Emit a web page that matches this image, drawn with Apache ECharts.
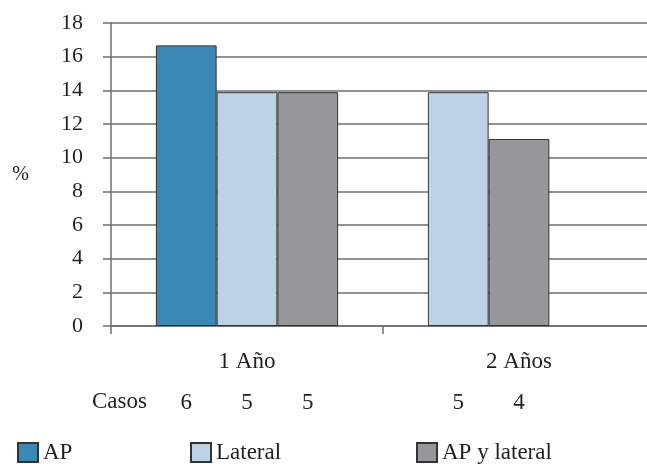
<!DOCTYPE html>
<html>
<head>
<meta charset="utf-8">
<script src="https://cdn.jsdelivr.net/npm/echarts@6/dist/echarts.min.js"></script>
<style>
  html, body { margin: 0; padding: 0; background: #fff; }
  #chart { width: 647px; height: 464px; }
</style>
</head>
<body>
<div id="chart"></div>
<script>
// Data
const categories = ["1 Año", "2 Años"];
const seriesNames = ["AP", "Lateral", "AP y lateral"];
const apValues = [16.67, null];
const lateralValues = [13.89, 13.89];
const apLateralValues = [13.89, 11.11];
const apCasos = [6, null];
const lateralCasos = [5, 5];
const apLateralCasos = [5, 4];
const yTicks = { min: 0, max: 18, step: 2 };

const colors = ["#3b88b5", "#bdd2e6", "#96979b"];
const textColor = "#231f20";
const font = "Liberation Serif";

document.addEventListener("DOMContentLoaded", function () {
  initChart();
});

function initChart() {
  let chartDom = document.getElementById("chart");
  let myChart = echarts.init(chartDom);

  let values = [apValues, lateralValues, apLateralValues];
  let casos = [apCasos, lateralCasos, apLateralCasos];

  // bars sit side by side in each group, empty entries are skipped
  let slots = [[], [], []];
  categories.forEach(function (cat, ci) {
    let k = 0;
    values.forEach(function (vals, si) {
      if (vals[ci] == null) return;
      slots[k][ci] = {
        value: vals[ci],
        casos: casos[si][ci],
        itemStyle: { color: colors[si] },
      };
      k++;
    });
    for (; k < 3; k++) slots[k][ci] = null;
  });

  let series = slots.map(function (data, i) {
    return {
      name: seriesNames[i],
      type: "bar",
      data: data,
      barGap: 0,
      barCategoryGap: "33%",
      itemStyle: {
        color: colors[i],
        borderColor: "#333",
        borderWidth: 1,
      },
      label: {
        show: true,
        position: "bottom",
        distance: 5,
        offset: [0, 60],
        color: textColor,
        fontFamily: font,
        fontSize: 23,
        formatter: function (p) {
          return p.data && p.data.casos != null ? String(p.data.casos) : "";
        },
      },
      emphasis: { disabled: true },
      silent: true,
    };
  });

  let legendLefts = [12, 185, 411];
  let legends = seriesNames.map(function (name, i) {
    return {
      data: [name],
      left: legendLefts[i],
      top: 436,
      icon: "rect",
      itemWidth: 20,
      itemHeight: 19,
      itemGap: 10,
      selectedMode: false,
      textStyle: { color: textColor, fontFamily: font, fontSize: 23 },
    };
  });

  let option = {
    backgroundColor: "#fff",
    animation: false,
    // plot runs past the right edge in the original
    grid: { left: 111, width: 544, top: 23, bottom: 138, outerBoundsMode: "none" },
    legend: legends,
    xAxis: {
      type: "category",
      data: categories,
      axisLine: { lineStyle: { color: "#6d6e71", width: 1.5 } },
      axisTick: { show: true, length: 8, lineStyle: { color: "#6d6e71", width: 1.5 } },
      axisLabel: {
        margin: 24,
        color: textColor,
        fontFamily: font,
        fontSize: 23,
      },
    },
    yAxis: {
      type: "value",
      min: yTicks.min,
      max: yTicks.max,
      interval: yTicks.step,
      name: "%",
      nameLocation: "middle",
      nameRotate: 0,
      nameGap: 82,
      nameTextStyle: { color: textColor, fontFamily: font, fontSize: 20 },
      axisLine: { show: true, lineStyle: { color: "#6d6e71", width: 1.5 } },
      axisTick: { show: true, length: 8, lineStyle: { color: "#6d6e71", width: 1.5 } },
      axisLabel: {
        margin: 28,
        color: textColor,
        fontFamily: font,
        fontSize: 22,
      },
      splitLine: { lineStyle: { color: "#6d6e71", width: 1.5 } },
    },
    graphic: [
      {
        type: "text",
        left: 92,
        top: 390,
        style: {
          text: "Casos",
          fill: textColor,
          font: "23px '" + font + "'",
        },
      },
    ],
    series: series,
  };

  myChart.setOption(option);
}
</script>
</body>
</html>
